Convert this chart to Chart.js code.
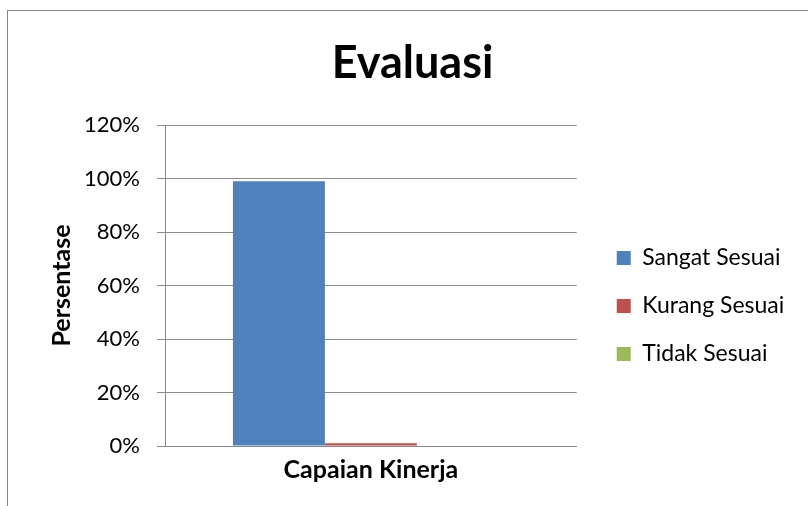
<!DOCTYPE html>
<html>
<head>
<meta charset="utf-8">
<script src="https://cdn.jsdelivr.net/npm/chart.js@4.4.1/dist/chart.umd.min.js"></script>
<style>
  html, body { margin: 0; padding: 0; background: #fff; }
  #wrap { position: relative; width: 808px; height: 506px; overflow: hidden; }
  #frame { position: absolute; left: 7px; top: 10px; width: 900px; height: 600px;
           border-left: 1px solid #868686; border-top: 1px solid #868686; }
  #barChart { position: absolute; left: 0; top: 0; }
</style>
</head>
<body>
<div id="wrap">
  <div id="frame"></div>
  <canvas id="barChart" width="808" height="506"></canvas>
</div>
<script>
// data
var categories = ['Capaian Kinerja'];
var seriesNames = ['Sangat Sesuai', 'Kurang Sesuai', 'Tidak Sesuai'];
var sangatSesuai = [99];
var kurangSesuai = [1];
var tidakSesuai = [0];
var yTicks = [0, 20, 40, 60, 80, 100, 120];

var colors = ['#4F81BD', '#C0504D', '#9BBB59'];
var fontName = 'Lato, "Open Sans", sans-serif';

// nudge title and legend to where the original has them
var nudgePlugin = {
    id: 'nudge',
    afterLayout: function (chart) {
        var t = chart.titleBlock;
        if (t) { t.left += 28; t.right += 28; }
        var lg = chart.legend;
        if (lg) { lg.left += 15; lg.right += 15; lg.top += 58; lg.bottom += 58; }
    }
};

var ctx = document.getElementById('barChart').getContext('2d');
var myChart = new Chart(ctx, {
    type: 'bar',
    data: {
        labels: categories,
        datasets: [
            { label: seriesNames[0], data: sangatSesuai, backgroundColor: colors[0] },
            { label: seriesNames[1], data: kurangSesuai, backgroundColor: colors[1] },
            { label: seriesNames[2], data: tidakSesuai, backgroundColor: colors[2] }
        ]
    },
    options: {
        responsive: false,
        animation: false,
        devicePixelRatio: 1,
        layout: { padding: { left: 0, right: 39, top: 10, bottom: 20 } },
        datasets: {
            bar: { categoryPercentage: 0.67, barPercentage: 1.0 }
        },
        plugins: {
            title: {
                display: true,
                text: 'Evaluasi',
                color: '#000',
                font: { family: fontName, size: 45, weight: 'bold' },
                padding: { top: 26, bottom: 35 }
            },
            legend: {
                position: 'right',
                labels: {
                    color: '#000',
                    font: { family: fontName, size: 23 },
                    boxWidth: 14,
                    boxHeight: 14,
                    padding: 25
                }
            },
            tooltip: { enabled: false }
        },
        scales: {
            x: {
                grid: { display: false },
                border: { display: true, color: '#888888' },
                ticks: {
                    color: '#000',
                    font: { family: fontName, size: 25, weight: 'bold' },
                    padding: 1
                }
            },
            y: {
                min: 0,
                max: 120,
                afterBuildTicks: function (scale) {
                    scale.ticks = yTicks.map(function (v) { return { value: v }; });
                },
                afterFit: function (scale) { scale.width = 165; },
                grid: { color: '#8c8c8c', tickLength: 8, drawTicks: true },
                border: { display: true, color: '#888888' },
                ticks: {
                    color: '#000',
                    font: { family: fontName, size: 22 },
                    padding: 17,
                    callback: function (v) { return v + '%'; }
                },
                title: {
                    display: true,
                    text: 'Persentase',
                    color: '#000',
                    font: { family: fontName, size: 25, weight: 'bold' },
                    padding: { top: 47, bottom: 0 }
                }
            }
        }
    },
    plugins: [nudgePlugin]
});
</script>
</body>
</html>
